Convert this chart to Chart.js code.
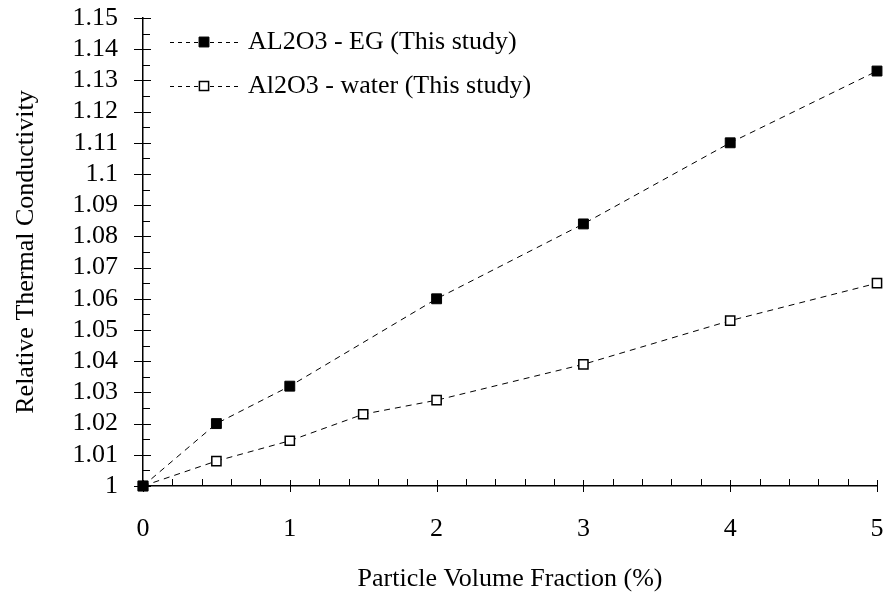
<!DOCTYPE html>
<html>
<head>
<meta charset="utf-8">
<script src="https://cdn.jsdelivr.net/npm/chart.js@4.4.0/dist/chart.umd.min.js"></script>
<style>
html, body { margin: 0; padding: 0; background: #fff; }
</style>
</head>
<body>
<canvas id="myChart" width="888" height="598"></canvas>
<script>
// data
var seriesLabels = ['AL2O3 - EG (This study)', 'Al2O3 - water (This study)'];
var fractionEG = [0, 0.5, 1, 2, 3, 4, 5];
var conductivityEG = [1.000, 1.020, 1.032, 1.060, 1.084, 1.110, 1.133];
var fractionWater = [0, 0.5, 1, 1.5, 2, 3, 4, 5];
var conductivityWater = [1.000, 1.008, 1.0145, 1.023, 1.0275, 1.039, 1.053, 1.065];

function toPoints(xs, ys) {
    return xs.map(function (x, i) { return { x: x, y: ys[i] }; });
}

Chart.defaults.font.family = '"Liberation Serif", "Times New Roman", serif';
Chart.defaults.font.size = 26;
Chart.defaults.color = '#000';

// tick marks drawn from the scales (major cross the axis, minor point inward)
var axisTicks = {
    id: 'axisTicks',
    beforeDatasetsDraw: function (chart) {
        var ctx = chart.ctx, xs = chart.scales.x, ys = chart.scales.y;
        var left = chart.chartArea.left, bottom = chart.chartArea.bottom;
        ctx.save();
        ctx.strokeStyle = '#000';
        ctx.lineWidth = 1;
        ctx.beginPath();
        for (var i = 0; i <= 25; i++) {
            var px = Math.round(xs.getPixelForValue(i * 0.2)) + 0.5;
            if (i % 5 === 0) { ctx.moveTo(px, bottom + 6); ctx.lineTo(px, bottom - 6); }
            else { ctx.moveTo(px, bottom); ctx.lineTo(px, bottom - 7); }
        }
        for (var j = 0; j <= 30; j++) {
            var py = Math.round(ys.getPixelForValue(1 + j * 0.005)) + 0.5;
            if (j % 2 === 0) { ctx.moveTo(left - 9, py); ctx.lineTo(left + 8, py); }
            else { ctx.moveTo(left, py); ctx.lineTo(left + 7, py); }
        }
        ctx.stroke();
        ctx.restore();
    }
};

// legend in the top-left of the plot, line - marker - line like the original
var insetLegend = {
    id: 'insetLegend',
    afterDraw: function (chart) {
        var ctx = chart.ctx, area = chart.chartArea;
        chart.data.datasets.forEach(function (ds, i) {
            var x0 = area.left + 27, y = area.top + 24 + i * 44;
            ctx.save();
            ctx.strokeStyle = '#000';
            ctx.lineWidth = 1;
            ctx.setLineDash([4, 4]);
            ctx.beginPath();
            ctx.moveTo(x0, y + 0.5);
            ctx.lineTo(x0 + 68, y + 0.5);
            ctx.stroke();
            ctx.setLineDash([]);
            ctx.fillStyle = ds.pointBackgroundColor;
            ctx.strokeStyle = ds.pointBorderColor;
            ctx.lineWidth = ds.pointBorderWidth;
            Chart.helpers.drawPoint(ctx, { pointStyle: 'rect', radius: ds.pointRadius, rotation: 0, borderWidth: ds.pointBorderWidth }, x0 + 34, y);
            ctx.fillStyle = '#000';
            ctx.font = '26px "Liberation Serif", serif';
            ctx.textBaseline = 'middle';
            ctx.fillText(ds.label, x0 + 78, y);
            ctx.restore();
        });
    }
};

var ctx = document.getElementById('myChart').getContext('2d');
var myChart = new Chart(ctx, {
    type: 'line',
    data: {
        datasets: [{
            label: seriesLabels[0],
            data: toPoints(fractionEG, conductivityEG),
            borderColor: '#000',
            borderWidth: 1,
            borderDash: [6, 5],
            pointStyle: 'rect',
            pointRadius: 7,
            pointBackgroundColor: '#000',
            pointBorderColor: '#000',
            pointBorderWidth: 1,
            tension: 0,
            clip: false
        }, {
            label: seriesLabels[1],
            data: toPoints(fractionWater, conductivityWater),
            borderColor: '#000',
            borderWidth: 1,
            borderDash: [6, 5],
            pointStyle: 'rect',
            pointRadius: 6.5,
            pointBackgroundColor: '#fff',
            pointBorderColor: '#000',
            pointBorderWidth: 1.5,
            tension: 0,
            clip: false
        }]
    },
    options: {
        responsive: false,
        animation: false,
        layout: { padding: { top: 18, right: 11, left: 0, bottom: 0 } },
        plugins: {
            legend: { display: false },
            tooltip: { enabled: false }
        },
        scales: {
            x: {
                type: 'linear',
                min: 0,
                max: 5,
                ticks: { stepSize: 1, padding: 28, maxRotation: 0 },
                grid: { display: false, drawTicks: false },
                border: { display: true, color: '#000', width: 1.5 },
                title: { display: true, text: 'Particle Volume Fraction (%)', padding: { top: 0, bottom: 3 } },
                afterFit: function (scale) {
                    scale.height = 112;
                    scale.paddingLeft = 0;
                    scale.paddingRight = 0;
                }
            },
            y: {
                min: 1,
                max: 1.15,
                ticks: {
                    stepSize: 0.01,
                    autoSkip: false,
                    padding: 25,
                    callback: function (v) { return String(Math.round(v * 100) / 100); }
                },
                grid: { display: false, drawTicks: false },
                border: { display: true, color: '#000', width: 1.5 },
                title: { display: true, text: 'Relative Thermal Conductivity', padding: { top: 11, bottom: 0 } },
                afterFit: function (scale) {
                    scale.width = 143;
                    scale.paddingTop = 0;
                    scale.paddingBottom = 0;
                }
            }
        }
    },
    plugins: [axisTicks, insetLegend]
});
</script>
</body>
</html>
